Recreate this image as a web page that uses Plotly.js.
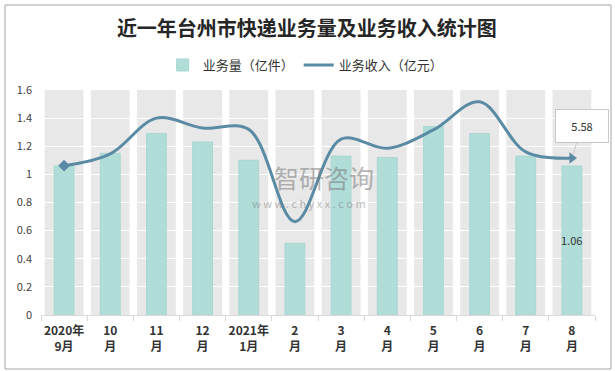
<!DOCTYPE html>
<html>
<head>
<meta charset="utf-8">
<script src="https://cdn.plot.ly/plotly-3.0.1.min.js"></script>
<style>html,body{margin:0;padding:0;background:#fff;}#chart{width:615px;height:371px;}</style>
</head>
<body>
<div id="chart"></div>
<script>
// ---- data ----
var categories = ['2020年9月','10月','11月','12月','2021年1月','2月','3月','4月','5月','6月','7月','8月'];
var tickLabels = ['2020年<br>9月','10<br>月','11<br>月','12<br>月','2021年<br>1月','2<br>月','3<br>月','4<br>月','5<br>月','6<br>月','7<br>月','8<br>月'];
var volume = [1.06, 1.15, 1.29, 1.23, 1.10, 0.51, 1.13, 1.12, 1.34, 1.29, 1.13, 1.06];   // 业务量（亿件）
var revenue = [5.31, 5.73, 7.00, 6.65, 6.60, 3.32, 6.25, 5.93, 6.58, 7.58, 5.80, 5.58]; // 业务收入（亿元）
var yTicks = [0, 0.2, 0.4, 0.6, 0.8, 1, 1.2, 1.4, 1.6];
var seriesNames = ['业务量（亿件）', '业务收入（亿元）'];
var titleText = '近一年台州市快递业务量及业务收入统计图';

var FONT = '"Noto Sans CJK SC", "Noto Sans", sans-serif';
var last = categories.length - 1;
var LINE_COLOR = '#5a8ba4';

var bars = {
  type: 'bar', name: seriesNames[0], x: categories, y: volume,
  width: 0.43,
  marker: {color: '#b1ddd9', line: {color: '#a8d8d3', width: 1}},
  hoverinfo: 'x+y'
};

var line = {
  type: 'scatter', mode: 'lines', name: seriesNames[1], x: categories, y: revenue,
  yaxis: 'y2',
  line: {color: LINE_COLOR, width: 3, shape: 'spline', smoothing: 1}
};
// start (diamond) and end (arrow) markers of the line
var lineStart = {
  type: 'scatter', mode: 'markers', x: [categories[0]], y: [revenue[0]], yaxis: 'y2', showlegend: false,
  marker: {color: LINE_COLOR, symbol: 'diamond', size: 9, line: {width: 0}}
};
var lineEnd = {
  type: 'scatter', mode: 'markers', x: [categories[last]], y: [revenue[last]], yaxis: 'y2', showlegend: false,
  marker: {color: LINE_COLOR, symbol: 'triangle-right', size: 10, line: {width: 0}}
};

// gray column bands behind each category
var shapes = categories.map(function(c, i){
  return {type: 'rect', xref: 'x', yref: 'y', x0: i - 0.42, x1: i + 0.42, y0: 0, y1: yTicks[yTicks.length-1],
          fillcolor: '#e8e8e8', line: {width: 0}, layer: 'below'};
});
// outer frame
shapes.push({type: 'rect', xref: 'paper', yref: 'paper',
  x0: (5-41)/554, x1: (611-41)/554, y0: (315-369)/225, y1: (315-5)/225,
  line: {color: '#a6a6a6', width: 1}, fillcolor: 'rgba(0,0,0,0)', layer: 'above'});

var annotations = [
  {x: categories[last], y: volume[last] / 2, xref: 'x', yref: 'y', text: volume[last].toFixed(2),
   showarrow: false, font: {family: FONT, size: 11, color: '#333'}},
  {x: categories[last], y: revenue[last], xref: 'x', yref: 'y2', text: revenue[last].toFixed(2),
   showarrow: true, arrowhead: 0, arrowwidth: 1, arrowcolor: '#c8c8c8', ax: 10, ay: -32, standoff: 3,
   xanchor: 'center', yanchor: 'middle',
   bgcolor: '#ffffff', bordercolor: '#c8c8c8', borderwidth: 1, width: 50, height: 30, borderpad: 1,
   font: {family: FONT, size: 11, color: '#333'}},
  {xref: 'paper', yref: 'paper', x: 0.51, y: 0.615, text: '智研咨询', showarrow: false,
   font: {family: FONT, size: 25, color: 'rgba(120,120,120,0.55)'}},
  {xref: 'paper', yref: 'paper', x: 0.483, y: 0.5, text: 'w w w . c h y x x . c o m', showarrow: false,
   font: {family: FONT, size: 11, color: 'rgba(120,120,120,0.5)'}}
];

var layout = {
  width: 615, height: 371,
  margin: {l: 41, r: 20, t: 90, b: 56, pad: 0},
  paper_bgcolor: '#ffffff', plot_bgcolor: '#ffffff',
  font: {family: FONT, color: '#404040', size: 11},
  title: {text: '<b>' + titleText + '</b>', x: 0.499, xref: 'container', xanchor: 'center',
          y: 1 - 29/371, yref: 'container', yanchor: 'middle',
          font: {family: FONT, size: 20, color: '#262626'}},
  showlegend: true,
  legend: {orientation: 'h', xref: 'container', yref: 'container', x: 0.497, xanchor: 'center',
           y: 1 - 65/371, yanchor: 'middle', font: {family: FONT, size: 13, color: '#333'},
           itemwidth: 30, tracegroupgap: 0},
  barmode: 'overlay',
  xaxis: {type: 'category', range: [-0.5, last + 0.5], tickvals: categories,
          ticktext: tickLabels.map(function(t){return '<b>'+t+'</b>';}),
          tickangle: 0, automargin: false, ticklabelstandoff: 5,
          showline: true, linecolor: '#d9d9d9', linewidth: 1, ticks: 'outside', tickson: 'boundaries',
          ticklen: 5, tickcolor: '#d9d9d9', showgrid: false, tickfont: {family: FONT, size: 12, color: '#333'},
          fixedrange: true},
  yaxis: {range: [0, yTicks[yTicks.length-1]], tickvals: yTicks, showgrid: true, gridcolor: '#ffffff', gridwidth: 1,
          zeroline: false, showline: false, ticks: '', ticklabelstandoff: 8, automargin: false,
          tickfont: {family: FONT, size: 11, color: '#404040'}, fixedrange: true},
  yaxis2: {overlaying: 'y', range: [0, 8], visible: false, showgrid: false, zeroline: false, fixedrange: true},
  shapes: shapes,
  annotations: annotations
};

Plotly.newPlot('chart', [bars, line, lineStart, lineEnd], layout, {displayModeBar: false, staticPlot: true});
</script>
</body>
</html>
